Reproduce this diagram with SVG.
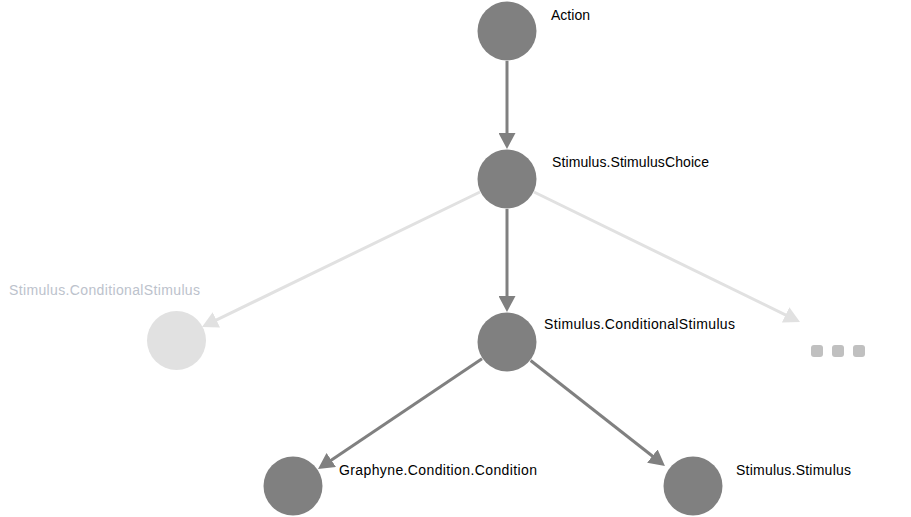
<svg xmlns="http://www.w3.org/2000/svg" width="911" height="517" viewBox="0 0 911 517">
<style>
.node{fill:#808080}
.faded{fill:#e1e1e1}
.lbl{font-family:"Liberation Sans",Arial,sans-serif;font-size:14px;fill:#000}
.flbl{font-family:"Liberation Sans",Arial,sans-serif;font-size:14px;fill:#bcc2cc}
.e{stroke:#808080;stroke-width:3;fill:none;marker-end:url(#ah)}
.fe{stroke:#e1e1e1;stroke-width:3;fill:none;marker-end:url(#fah)}
.dot{fill:#c0c0c0}
</style>
<defs>
<marker id="ah" markerUnits="userSpaceOnUse" markerWidth="16" markerHeight="17" refX="6" refY="8.5" orient="auto">
<path d="M0,0 L16,8.5 L0,17 z" fill="#808080"/>
</marker>
<marker id="fah" markerUnits="userSpaceOnUse" markerWidth="16" markerHeight="17" refX="6" refY="8.5" orient="auto">
<path d="M0,0 L16,8.5 L0,17 z" fill="#e1e1e1"/>
</marker>
</defs>
<rect width="911" height="517" fill="#fff"/>
<g id="connectors">
<line class="fe" x1="480" y1="192" x2="211" y2="322.6"/>
<line class="fe" x1="534" y1="192" x2="791" y2="317.6"/>
<line class="e" x1="507" y1="61" x2="507" y2="139"/>
<line class="e" x1="507" y1="209" x2="507" y2="302"/>
<line class="e" x1="482" y1="358.7" x2="326.3" y2="463.4"/>
<line class="e" x1="530.6" y1="360.5" x2="657.1" y2="459.8"/>
</g>
<g id="node-action">
<circle class="node" cx="507" cy="31" r="29.5"/>
<text class="lbl" x="551" y="20" textLength="39">Action</text>
</g>
<g id="node-choice">
<circle class="node" cx="507" cy="179" r="29.5"/>
<text class="lbl" x="552" y="167" textLength="157">Stimulus.StimulusChoice</text>
</g>
<g id="node-cond">
<circle class="node" cx="507" cy="342" r="29.5"/>
<text class="lbl" x="544" y="329" textLength="191">Stimulus.ConditionalStimulus</text>
</g>
<g id="node-cond-faded">
<circle class="faded" cx="176.5" cy="340.5" r="29.5"/>
<text class="flbl" x="9" y="295" textLength="191">Stimulus.ConditionalStimulus</text>
</g>
<g id="node-more">
<rect class="dot" x="811" y="345" width="12" height="12" rx="3"/>
<rect class="dot" x="832" y="345" width="12" height="12" rx="3"/>
<rect class="dot" x="853" y="345" width="12" height="12" rx="3"/>
</g>
<g id="node-condition">
<circle class="node" cx="293" cy="486" r="29.5"/>
<text class="lbl" x="339" y="475" textLength="198">Graphyne.Condition.Condition</text>
</g>
<g id="node-stimulus">
<circle class="node" cx="693" cy="486" r="29.5"/>
<text class="lbl" x="736" y="475" textLength="115">Stimulus.Stimulus</text>
</g>
</svg>
